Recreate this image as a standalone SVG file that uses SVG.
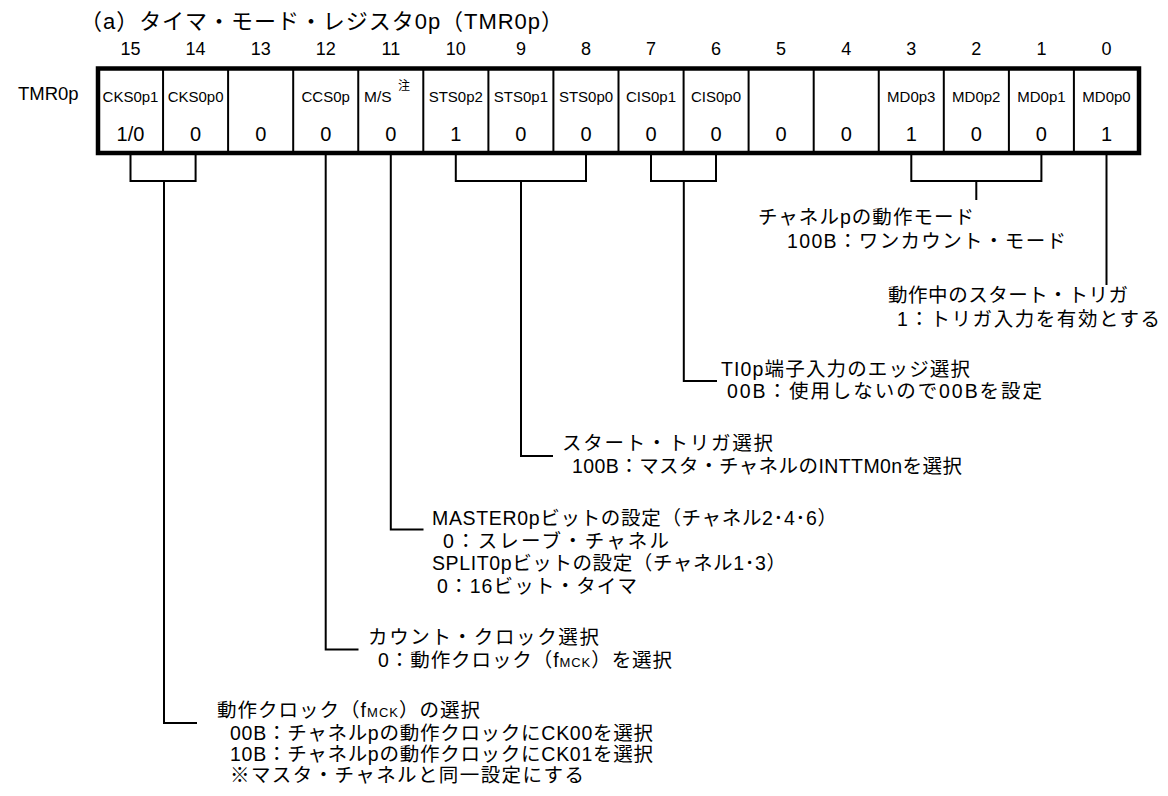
<svg xmlns="http://www.w3.org/2000/svg" width="1168" height="796" viewBox="0 0 1168 796">
<style>
text{font-family:"Liberation Sans","Noto Sans CJK JP",sans-serif;fill:#000}
.t{font-size:19.5px}
.bn{font-size:18px;text-anchor:middle}
.fn{font-size:15px;text-anchor:middle}
.v{font-size:20px;text-anchor:middle}
.div{stroke:#000;stroke-width:2}
.c{fill:none;stroke:#000;stroke-width:2}
</style>
<rect width="1168" height="796" fill="#fff"/>
<text x="80" y="29" font-size="22" textLength="483">（a）タイマ・モード・レジスタ0p（TMR0p）</text>
<g id="bitnums">
<text class="bn" x="130.5" y="55">15</text><text class="bn" x="195.6" y="55">14</text><text class="bn" x="260.7" y="55">13</text><text class="bn" x="325.7" y="55">12</text>
<text class="bn" x="390.8" y="55">11</text><text class="bn" x="455.8" y="55">10</text><text class="bn" x="520.9" y="55">9</text><text class="bn" x="586" y="55">8</text>
<text class="bn" x="651" y="55">7</text><text class="bn" x="716" y="55">6</text><text class="bn" x="781.1" y="55">5</text><text class="bn" x="846.2" y="55">4</text>
<text class="bn" x="911.3" y="55">3</text><text class="bn" x="976.3" y="55">2</text><text class="bn" x="1041.4" y="55">1</text><text class="bn" x="1106.5" y="55">0</text>
</g>
<g id="register">
<text x="18" y="100" font-size="18.5">TMR0p</text>
<rect x="98" y="68.5" width="1041" height="84.5" fill="#fff" stroke="#000" stroke-width="4.5"/>
<path class="div" d="M163.06 68.5V153M228.1 68.5V153M293.2 68.5V153M358.25 68.5V153M423.3 68.5V153M488.4 68.5V153M553.4 68.5V153M618.5 68.5V153M683.6 68.5V153M748.6 68.5V153M813.7 68.5V153M878.75 68.5V153M943.8 68.5V153M1008.9 68.5V153M1073.9 68.5V153"/>
<text class="fn" x="130.5" y="102" font-size="14">CKS0p1</text><text class="fn" x="195.6" y="102" font-size="14">CKS0p0</text>
<text class="fn" x="325.7" y="102" font-size="15.5">CCS0p</text>
<text x="364" y="102" font-size="15.5">M/S</text><text x="398" y="90" font-size="12">注</text>
<text class="fn" x="455.8" y="102">STS0p2</text><text class="fn" x="520.9" y="102">STS0p1</text><text class="fn" x="586" y="102">STS0p0</text>
<text class="fn" x="651" y="102">CIS0p1</text><text class="fn" x="716" y="102">CIS0p0</text>
<text class="fn" x="911.3" y="102">MD0p3</text><text class="fn" x="976.3" y="102">MD0p2</text><text class="fn" x="1041.4" y="102">MD0p1</text><text class="fn" x="1106.5" y="102">MD0p0</text>
<text class="v" x="130.5" y="141">1/0</text><text class="v" x="195.6" y="141">0</text><text class="v" x="260.7" y="141">0</text><text class="v" x="325.7" y="141">0</text>
<text class="v" x="390.8" y="141">0</text><text class="v" x="455.8" y="141">1</text><text class="v" x="520.9" y="141">0</text><text class="v" x="586" y="141">0</text>
<text class="v" x="651" y="141">0</text><text class="v" x="716" y="141">0</text><text class="v" x="781.1" y="141">0</text><text class="v" x="846.2" y="141">0</text>
<text class="v" x="911.3" y="141">1</text><text class="v" x="976.3" y="141">0</text><text class="v" x="1041.4" y="141">0</text><text class="v" x="1106.5" y="141">1</text>
</g>
<g id="connectors">
<path class="c" d="M130.5 155V181H195.6V155M164 181V723H197"/>
<path class="c" d="M325.7 155V649.5H358.5"/>
<path class="c" d="M390.8 155V529.5H423.5"/>
<path class="c" d="M455.8 155V181H586V155M521 181V456H553"/>
<path class="c" d="M651 155V181H716V155M683.8 181V381H717"/>
<path class="c" d="M911.3 155V181H1041.4V155M976.3 181V200"/>
<path class="c" d="M1106.5 155V285"/>
</g>
<g id="desc-md">
<text class="t" x="758" y="224" textLength="216">チャネルpの動作モード</text>
<text class="t" x="787" y="248" textLength="279">100B：ワンカウント・モード</text>
</g>
<g id="desc-md0">
<text class="t" x="888" y="302" textLength="240">動作中のスタート・トリガ</text>
<text class="t" x="897" y="326" textLength="263">1：トリガ入力を有効とする</text>
</g>
<g id="desc-cis">
<text class="t" x="721" y="376" textLength="249">TI0p端子入力のエッジ選択</text>
<text class="t" x="727" y="398" textLength="315">00B：使用しないので00Bを設定</text>
</g>
<g id="desc-sts">
<text class="t" x="562" y="450" textLength="211">スタート・トリガ選択</text>
<text class="t" x="572" y="473" textLength="390">100B：マスタ・チャネルのINTTM0nを選択</text>
</g>
<g id="desc-ms">
<text class="t" x="432" y="525" textLength="405">MASTER0pビットの設定（チャネル2･4･6）</text>
<text class="t" x="443" y="548" textLength="226">0：スレーブ・チャネル</text>
<text class="t" x="432" y="570" textLength="354">SPLIT0pビットの設定（チャネル1･3）</text>
<text class="t" x="437" y="593" textLength="200">0：16ビット・タイマ</text>
</g>
<g id="desc-ccs">
<text class="t" x="368" y="644" textLength="231">カウント・クロック選択</text>
<text class="t" x="378" y="667" textLength="294">0：動作クロック（f<tspan font-size="13">MCK</tspan>）を選択</text>
</g>
<g id="desc-cks">
<text class="t" x="217" y="717" textLength="263">動作クロック（f<tspan font-size="13">MCK</tspan>）の選択</text>
<text class="t" x="230" y="740" textLength="423">00B：チャネルpの動作クロックにCK00を選択</text>
<text class="t" x="230" y="761" textLength="423">10B：チャネルpの動作クロックにCK01を選択</text>
<text class="t" x="230" y="782" textLength="354">※マスタ・チャネルと同一設定にする</text>
</g>
</svg>
